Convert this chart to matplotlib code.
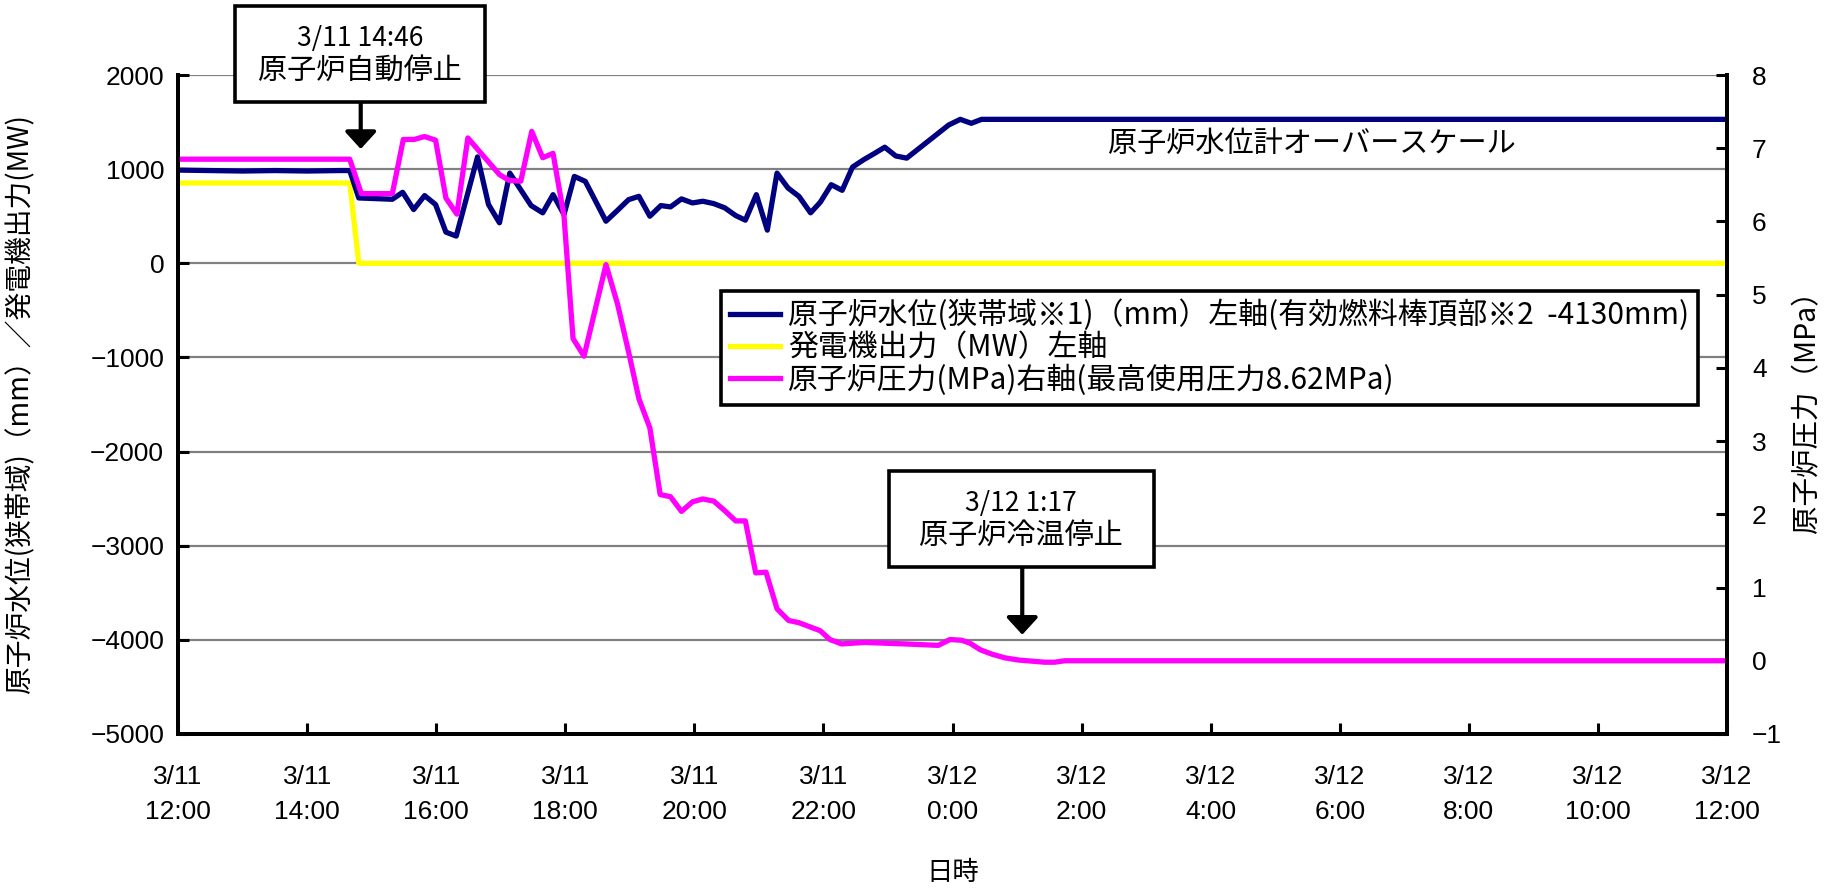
import matplotlib
matplotlib.use("Agg")
import matplotlib.pyplot as plt
from matplotlib.patches import Rectangle

jp = ['Noto Sans CJK JP', 'DejaVu Sans']
num = ['Liberation Sans', 'Noto Sans CJK JP']
plt.rcParams['font.family'] = jp

# hours after 3/11 12:00
level_h = [0.0, 0.5, 1.0, 1.5, 2.0, 2.5, 2.66, 2.80, 3.32, 3.48, 3.65, 3.82, 3.99, 4.15,
           4.31, 4.64, 4.81, 4.98, 5.14, 5.47, 5.65, 5.81, 5.98, 6.14, 6.31, 6.47, 6.63,
           6.81, 6.98, 7.14, 7.31, 7.48, 7.63, 7.80, 7.97, 8.13, 8.30, 8.47, 8.64, 8.79,
           8.96, 9.13, 9.28, 9.45, 9.62, 9.80, 9.95, 10.12, 10.29, 10.45, 10.62, 10.78,
           10.95, 11.12, 11.29, 11.94, 12.12, 12.29, 12.45, 24.0]
level_mm = [990, 985, 980, 985, 980, 985, 985, 694, 680, 754, 571, 719, 624, 331,
            289, 1130, 624, 430, 958, 613, 536, 729, 518, 923, 870, 659, 447,
            563, 676, 711, 500, 613, 599, 684, 641, 659, 634, 589, 507, 458,
            729, 352, 958, 800, 711, 536, 648, 835, 775, 1022, 1099, 1163,
            1233, 1140, 1117, 1469, 1529, 1487, 1529, 1529]

gen_h = [0.0, 2.66, 2.80, 24.0]
gen_mw = [853, 853, 0, 0]

press_h = [0.0, 2.66, 2.84, 3.32, 3.49, 3.66, 3.82, 3.99, 4.15, 4.32, 4.49, 4.98, 5.13,
           5.31, 5.48, 5.65, 5.81, 5.98, 6.12, 6.29, 6.63, 6.81, 6.98, 7.14, 7.31, 7.47,
           7.63, 7.80, 7.97, 8.13, 8.30, 8.47, 8.64, 8.79, 8.95, 9.11, 9.28, 9.46, 9.62,
           9.77, 9.95, 10.10, 10.28, 10.64, 11.26, 11.78, 11.96, 12.14, 12.27, 12.43,
           12.61, 12.81, 13.02, 13.43, 13.58, 13.74, 24.0]
press_mpa = [6.85, 6.85, 6.38, 6.38, 7.12, 7.12, 7.16, 7.11, 6.32, 6.10, 7.14, 6.64, 6.56,
             6.55, 7.23, 6.87, 6.93, 6.07, 4.40, 4.16, 5.41, 4.87, 4.22, 3.58, 3.18, 2.27,
             2.24, 2.04, 2.17, 2.21, 2.18, 2.05, 1.91, 1.91, 1.20, 1.21, 0.71, 0.55, 0.52,
             0.47, 0.41, 0.29, 0.23, 0.25, 0.23, 0.21, 0.29, 0.28, 0.24, 0.15,
             0.09, 0.04, 0.01, -0.02, -0.02, 0.0, 0.0]

x_ticks = list(range(0, 25, 2))
x_labels = ['3/11\n12:00', '3/11\n14:00', '3/11\n16:00', '3/11\n18:00', '3/11\n20:00',
            '3/11\n22:00', '3/12\n0:00', '3/12\n2:00', '3/12\n4:00', '3/12\n6:00',
            '3/12\n8:00', '3/12\n10:00', '3/12\n12:00']

labels = ['原子炉水位(狭帯域※1)（mm）左軸(有効燃料棒頂部※2  -4130mm)',
          '発電機出力（MW）左軸',
          '原子炉圧力(MPa)右軸(最高使用圧力8.62MPa)']

fig = plt.figure(figsize=(18.32, 8.94), dpi=100)
ax1 = fig.add_axes([0.0972, 0.179, 0.8455, 0.7371])
ax2 = ax1.twinx()

l1, = ax1.plot(level_h, level_mm, color='#000080', lw=3.8, zorder=3)
l2, = ax1.plot(gen_h, gen_mw, color='#FFFF00', lw=3.8, zorder=2)
l3, = ax2.plot(press_h, press_mpa, color='#FF00FF', lw=3.8)

ax1.set_xlim(0, 24)
ax1.set_ylim(-5000, 2000)
ax2.set_ylim(-1, 8)
ax1.set_yticks(range(-5000, 2001, 1000))
ax2.set_yticks(range(-1, 9))
ax1.set_xticks(x_ticks)
ax1.set_xticklabels(x_labels, family=num, fontsize=19, linespacing=1.6)
for t in ax1.get_yticklabels():
    t.set_family(num)
    t.set_fontsize(19)
for t in ax2.get_yticklabels():
    t.set_family(num)
    t.set_fontsize(19)

ax1.grid(axis='y', color='#808080', lw=1.6)
ax1.set_axisbelow(True)
for ax in (ax1, ax2):
    ax.spines['top'].set_visible(False)
    for s in ('left', 'right', 'bottom'):
        ax.spines[s].set_linewidth(2.8)
ax1.tick_params(axis='both', direction='in', length=8, width=2.2)
ax1.tick_params(axis='x', pad=22)
ax1.tick_params(axis='y', pad=10)
ax2.tick_params(axis='y', direction='in', length=8, width=2.2, pad=18)

ax1.set_ylabel('原子炉水位(狭帯域)（mm）／発電機出力(MW)', fontsize=20)
ax1.yaxis.set_label_coords(-0.092, 0.5)
ax2.set_ylabel('原子炉圧力（MPa）', fontsize=20.5)
ax2.yaxis.set_label_coords(1.042, 0.5)
ax1.set_xlabel('日時', fontsize=19)
ax1.xaxis.set_label_coords(0.5, -0.19)

leg = ax2.legend([l1, l2, l3], labels, loc='upper left', bbox_to_anchor=(0.3503, 0.6727),
                 borderaxespad=0, fontsize=21.5, frameon=True, fancybox=False,
                 handlelength=1.7, handletextpad=0.25, labelspacing=0.04, borderpad=0.3)
leg.get_frame().set_edgecolor('black')
leg.get_frame().set_linewidth(2.6)
leg.get_frame().set_alpha(1)

ax2.text(17.57, 1270, '原子炉水位計オーバースケール', transform=ax1.transData,
         fontsize=21, ha='center', va='center')

# event boxes
ax2.add_patch(Rectangle((0.88, 1717), 3.87, 1013, transform=ax1.transData,
                        facecolor='white', edgecolor='black', lw=2.6, clip_on=False, zorder=5))
ax2.text(2.815, 2391, '3/11 14:46', transform=ax1.transData, fontsize=19,
         ha='center', va='center', zorder=6, clip_on=False)
ax2.text(2.815, 2042, '原子炉自動停止', transform=ax1.transData, fontsize=21,
         ha='center', va='center', zorder=6, clip_on=False)
ax2.annotate('', xy=(2.83, 1214), xytext=(2.83, 1717), xycoords=ax1.transData,
             textcoords=ax1.transData,
             arrowprops=dict(arrowstyle='-|>,head_length=0.35,head_width=0.32',
                             mutation_scale=30, lw=3, color='black', shrinkA=0, shrinkB=0))

ax2.add_patch(Rectangle((11.01, -3227), 4.11, 1016, transform=ax1.transData,
                        facecolor='white', edgecolor='black', lw=2.6, zorder=5))
ax2.text(13.065, -2550, '3/12 1:17', transform=ax1.transData, fontsize=19,
         ha='center', va='center', zorder=6)
ax2.text(13.065, -2899, '原子炉冷温停止', transform=ax1.transData, fontsize=21,
         ha='center', va='center', zorder=6)
ax2.annotate('', xy=(13.08, -3946), xytext=(13.08, -3227), xycoords=ax1.transData,
             textcoords=ax1.transData,
             arrowprops=dict(arrowstyle='-|>,head_length=0.35,head_width=0.32',
                             mutation_scale=30, lw=3, color='black', shrinkA=0, shrinkB=0))

fig.savefig('out.png', dpi=100)
